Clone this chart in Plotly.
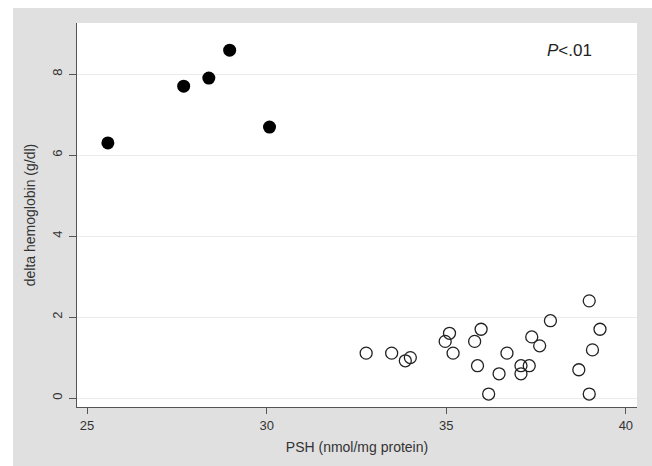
import plotly.graph_objects as go

# Filled points (group 1)
psh_filled = [25.58, 27.69, 28.39, 28.97, 30.08]
hb_filled = [6.30, 7.70, 7.90, 8.59, 6.69]

# Open points (group 2)
psh_open = [32.77, 33.48, 33.86, 34.00, 34.97, 35.09, 35.19, 35.79, 35.97, 35.87,
            36.18, 36.47, 36.69, 37.08, 37.08, 37.31, 37.38, 37.60, 37.90, 38.69,
            38.98, 38.98, 39.07, 39.28]
hb_open = [1.11, 1.11, 0.92, 1.00, 1.40, 1.60, 1.11, 1.40, 1.70, 0.80,
           0.10, 0.60, 1.11, 0.80, 0.60, 0.80, 1.51, 1.29, 1.91, 0.70,
           2.40, 0.10, 1.19, 1.70]

x_ticks = [25, 30, 35, 40]
y_ticks = [0, 2, 4, 6, 8]

W, H = 652, 466
L, R, T, B = 77, 15, 23, 59
pw, ph = W - L - R, H - T - B

def px_x(p):
    return (p - L) / pw

def px_y(p):
    return (H - B - p) / ph

fig = go.Figure()
fig.add_trace(go.Scatter(x=psh_filled, y=hb_filled, mode="markers",
                         marker=dict(symbol="circle", size=13, color="black",
                                     line=dict(width=0)),
                         showlegend=False))
fig.add_trace(go.Scatter(x=psh_open, y=hb_open, mode="markers",
                         marker=dict(symbol="circle-open", size=12, color="#222222",
                                     line=dict(width=1.3)),
                         showlegend=False))

fam = "Liberation Sans, Arial, sans-serif"
tick_font = dict(family=fam, size=13, color="#333333")
title_font = dict(family=fam, size=14, color="#333333")

fig.update_layout(
    width=W, height=H,
    margin=dict(l=L, r=R, t=T, b=B, autoexpand=False),
    paper_bgcolor="white",
    plot_bgcolor="white",
    font=tick_font,
    shapes=[
        dict(type="rect", xref="paper", yref="paper", layer="below",
             x0=px_x(13), x1=px_x(W + 5), y0=px_y(H + 5), y1=px_y(8),
             fillcolor="#e0e0e0", line=dict(width=0)),
        dict(type="rect", xref="paper", yref="paper", layer="below",
             x0=0, x1=1, y0=0, y1=1,
             fillcolor="white", line=dict(width=0)),
    ],
    xaxis=dict(range=[24.72, 40.31], tickvals=x_ticks, ticks="outside",
               ticklen=6, tickcolor="#555555", showgrid=False, zeroline=False,
               showline=True, linecolor="#555555", linewidth=1.2,
               automargin=False,
               title=dict(text="PSH (nmol/mg protein)", standoff=10,
                          font=title_font),
               tickfont=tick_font),
    yaxis=dict(range=[-0.22, 9.26], tickvals=y_ticks, ticks="outside",
               ticklen=7, tickcolor="#555555", tickangle=-90,
               ticklabelstandoff=2,
               showgrid=True, gridcolor="#ebebeb", gridwidth=1.2,
               zeroline=False, showline=True, linecolor="#555555", linewidth=1.2,
               automargin=False,
               title=dict(text="delta hemoglobin (g/dl)", standoff=10,
                          font=title_font),
               tickfont=tick_font),
    annotations=[
        dict(text="<i>P</i><.01", x=px_x(569), y=px_y(50), xref="paper",
             yref="paper", xanchor="center", yanchor="middle", showarrow=False,
             font=dict(family=fam, size=17, color="#222222"))
    ],
)

fig.write_html("out.html",
               config={"displayModeBar": False},
               post_script="document.body.style.margin='0';"
                           "document.body.style.overflow='hidden';")
